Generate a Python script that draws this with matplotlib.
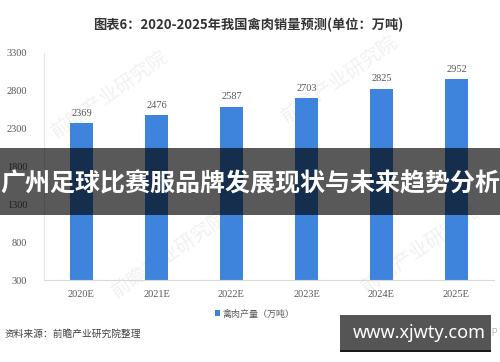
import matplotlib
matplotlib.use('Agg')
import matplotlib.pyplot as plt
from matplotlib.patches import Rectangle

plt.rcParams['font.family'] = ['Noto Sans CJK SC', 'DejaVu Sans']

# ================= data ================= #
years = ['2020E', '2021E', '2022E', '2023E', '2024E', '2025E']
sales = [2369, 2476, 2587, 2703, 2825, 2952]
y_ticks = [300, 800, 1300, 1800, 2300, 2800, 3300]

title = '图表6：2020-2025年我国禽肉销量预测(单位：万吨)'
legend_label = '禽肉产量（万吨）'
source = '资料来源：前瞻产业研究院整理'
overlay = '广州足球比赛服品牌发展现状与未来趋势分析'
site = 'www.xjwty.com'

W, H = 500, 362
fig = plt.figure(figsize=(W / 100, H / 100), dpi=100)
fig.patch.set_facecolor('white')

def fy(py):
    return 1 - py / H

ax = fig.add_axes([44 / W, fy(280), 450 / W, (280 - 53) / H])
x = list(range(len(years)))
bars = ax.bar(x, sales, width=0.31, color='#3F84DC', label=legend_label, zorder=2)
ax.set_ylim(300, 3300)
ax.set_xlim(-0.5, len(years) - 0.5)
ax.set_yticks(y_ticks)
ax.set_xticks(x)
ax.set_xticklabels(years, fontfamily='Liberation Serif', fontsize=7.5, color='#595959')
ax.tick_params(axis='y', labelsize=7.5, labelcolor='#595959', length=0, pad=12)
ax.tick_params(axis='x', length=0, pad=7)
for lab in ax.get_yticklabels():
    lab.set_fontfamily('Liberation Serif')
for s in ['top', 'right']:
    ax.spines[s].set_visible(False)
ax.spines['left'].set_color('#e6e6e6')
ax.spines['bottom'].set_color('#d9d9d9')

for rect, v in zip(bars, sales):
    ax.annotate(str(v), (rect.get_x() + rect.get_width() / 2, v), xytext=(0, 4),
                textcoords='offset points', ha='center', va='bottom',
                fontsize=7.5, color='#595959', fontfamily='Liberation Serif')

# faint watermarks, kept under the bars
for wx, wy in [(110, 95), (340, 80), (170, 255), (420, 250)]:
    ax.text(wx / W, fy(wy), '前瞻产业研究院', fontsize=14, color='#f1f1f1', rotation=35,
            ha='center', va='center', zorder=1, transform=fig.transFigure, clip_on=False)

fig.text(248 / W, fy(25), title, ha='center', va='center', fontsize=9.5,
         fontweight='bold', color='#333333')

leg = ax.legend(loc='center', bbox_to_anchor=(255 / W, fy(314)), bbox_transform=fig.transFigure,
                frameon=False, fontsize=6.5, handlelength=0.6, handleheight=0.6, handletextpad=0.3)
for t in leg.get_texts():
    t.set_color('#595959')

fig.text(5 / W, fy(334), source, ha='left', va='center', fontsize=7, color='#404040')

# overlay band
fig.patches.append(Rectangle((0, fy(215)), 1, (215 - 148) / H, transform=fig.transFigure,
                             facecolor='black', alpha=0.65, zorder=5))
fig.text(0.5, fy(184), overlay, ha='center', va='center', fontsize=18, fontweight='bold',
         color='white', zorder=6)

# site box
fig.text(498 / W, fy(333), '前瞻经济学人APP', ha='right', va='center', fontsize=7,
         color='#bbbbbb', zorder=1)
fig.patches.append(Rectangle((340 / W, fy(352)), 151 / W, 37 / H, transform=fig.transFigure,
                             facecolor='#555555', edgecolor='none', zorder=5))
fig.patches.append(Rectangle((340 / W, fy(352)), 151 / W, 2 / H, transform=fig.transFigure,
                             facecolor='#1a1a1a', edgecolor='none', zorder=5))
fig.text(419 / W, fy(333), site, ha='center', va='center', fontsize=13, fontweight='bold',
         color='white', fontfamily='Noto Sans', zorder=6)

fig.savefig('out.png', dpi=100)
